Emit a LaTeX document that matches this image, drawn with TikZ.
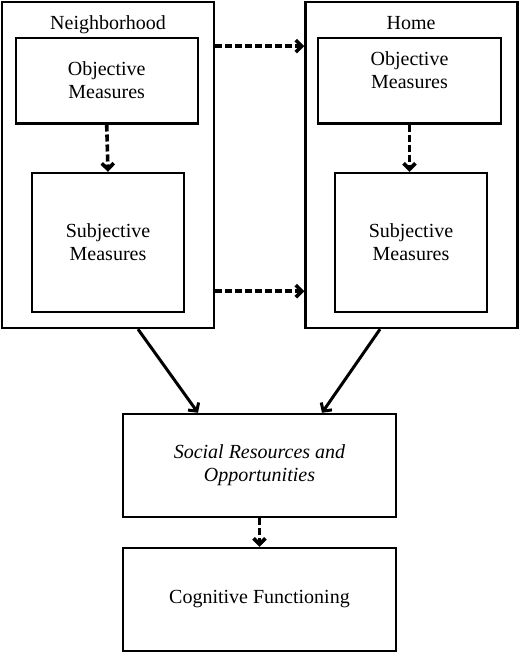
\documentclass[tikz,border=0pt]{standalone}
\usepackage{fontspec}
\setmainfont{Liberation Serif}
\usetikzlibrary{arrows.meta}

\begin{document}
\begin{tikzpicture}[x=0.5pt, y=-0.5pt,
    setting/.style ={draw, line width=1.2pt, minimum width=106pt, minimum height=163pt},
    measure/.style ={draw, line width=1.2pt, align=center, font=\fontsize{10}{11.5}\selectfont},
    outcome/.style ={draw, line width=1.2pt, align=center, minimum width=136.5pt,
                     minimum height=51.5pt, font=\fontsize{10}{11.5}\selectfont},
    title/.style ={anchor=base, font=\fontsize{10}{11.5}\selectfont},
    link/.style ={-{Straight Barb[length=3pt, width=6.5pt]}, line width=1.5pt},
    dashlink/.style ={-{Straight Barb[length=3pt, width=6pt]}, line width=1.8pt,
                      dash pattern=on 3.5pt off 1.5pt}]
   \useasboundingbox (0,0) rectangle (520,653);

   % settings
   \node[setting] (lout) at (108,165) {};
   \node[setting] (rout) at (411.5,165) {};
   \node[title] (ltitle) at (108,29) {Neighborhood};
   \node[title] (rtitle) at (411,29) {Home};

   % measures
   \node[measure, minimum width=91pt, minimum height=42.8pt] (lobj) at (106.7,80.5) {Objective\\Measures};
   \node[measure, minimum width=76pt, minimum height=69.5pt] (lsubj) at (108,242.5) {Subjective\\Measures};
   \node[measure, minimum width=91.5pt, minimum height=42.8pt, text depth=10.7pt] (robj) at (409.5,80.5) {Objective\\Measures};
   \node[measure, minimum width=76pt, minimum height=69.5pt] (rsubj) at (411,242.5) {Subjective\\Measures};

   % outcomes
   \node[outcome] (social) at (259.5,465.5) {\itshape Social Resources and\\\itshape Opportunities};
   \node[outcome] (cognitive) at (259.5,599.5) {Cognitive Functioning};

   \draw[dashlink] (lobj.south) to (lsubj.north);
   \draw[dashlink] (robj.south) to (robj.south |- rsubj.north);
   \draw[dashlink] ([yshift=-22.65pt]lout.north east) to ([yshift=-22.65pt]rout.north west);
   \draw[dashlink] ([yshift=19pt]lout.south east) to ([yshift=19pt]rout.south west);
   \draw[link] ([xshift=15pt]lout.south) to ([xshift=-30.75pt]social.north);
   \draw[link] ([xshift=-15.75pt]rout.south) to ([xshift=31.25pt]social.north);
   \draw[dashlink] (social.south) to (cognitive.north);

 \end{tikzpicture}
\end{document}
